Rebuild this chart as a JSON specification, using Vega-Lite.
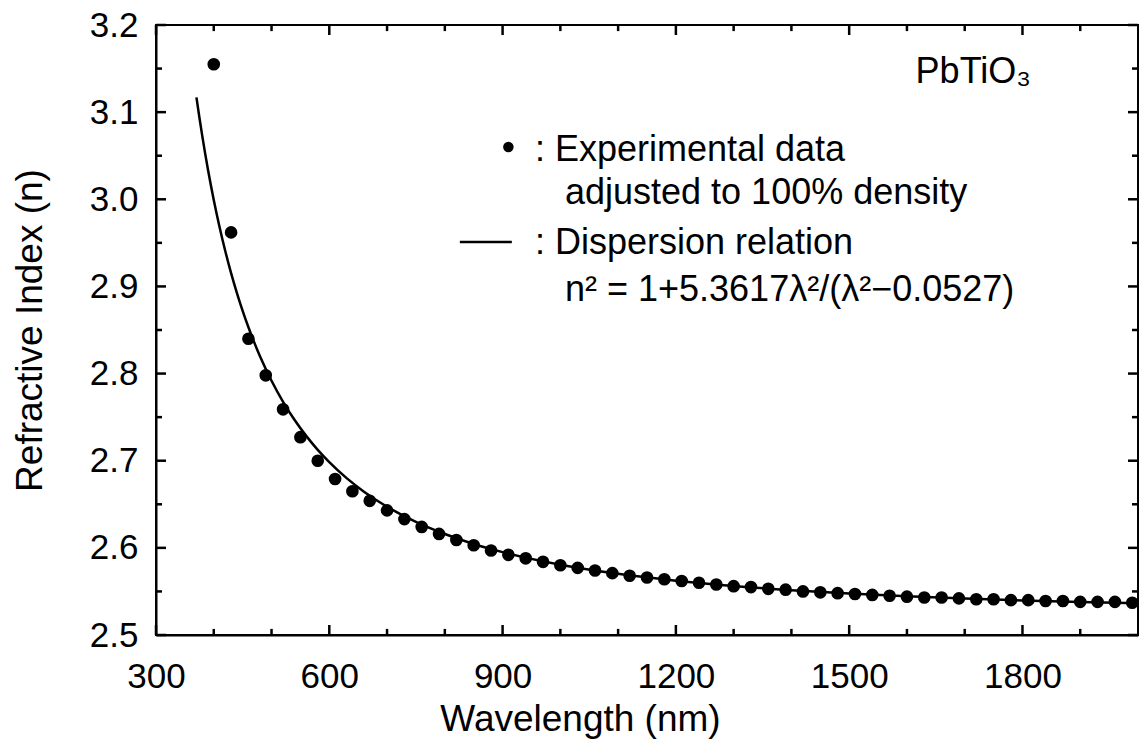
{
  "$schema": "https://vega.github.io/schema/vega-lite/v6.json",
  "width": 982,
  "height": 610,
  "autosize": "none",
  "padding": {"left": 156, "top": 25, "right": 3, "bottom": 110},
  "background": "white",
  "config": {
    "view": {"stroke": "black", "strokeWidth": 2},
    "axis": {
      "grid": false,
      "domainColor": "black",
      "domainWidth": 2,
      "labelColor": "black",
      "titleColor": "black",
      "labelFont": "Liberation Sans",
      "titleFont": "Liberation Sans",
      "labelFontSize": 35,
      "titleFontSize": 37,
      "titleFontWeight": "normal"
    },
    "text": {"font": "Liberation Sans", "fontSize": 36, "color": "black"},
    "rule": {"color": "black", "strokeWidth": 2.5}
  },
  "datasets": {
    "xt": [
      {"v": 300, "kind": "major"}, {"v": 400, "kind": "minor"}, {"v": 500, "kind": "minor"},
      {"v": 600, "kind": "major"}, {"v": 700, "kind": "minor"}, {"v": 800, "kind": "minor"},
      {"v": 900, "kind": "major"}, {"v": 1000, "kind": "minor"}, {"v": 1100, "kind": "minor"},
      {"v": 1200, "kind": "major"}, {"v": 1300, "kind": "minor"}, {"v": 1400, "kind": "minor"},
      {"v": 1500, "kind": "major"}, {"v": 1600, "kind": "minor"}, {"v": 1700, "kind": "minor"},
      {"v": 1800, "kind": "major"}, {"v": 1900, "kind": "minor"}
    ],
    "yt": [
      {"v": 2.5, "kind": "major"}, {"v": 2.55, "kind": "minor"}, {"v": 2.6, "kind": "major"},
      {"v": 2.65, "kind": "minor"}, {"v": 2.7, "kind": "major"}, {"v": 2.75, "kind": "minor"},
      {"v": 2.8, "kind": "major"}, {"v": 2.85, "kind": "minor"}, {"v": 2.9, "kind": "major"},
      {"v": 2.95, "kind": "minor"}, {"v": 3.0, "kind": "major"}, {"v": 3.05, "kind": "minor"},
      {"v": 3.1, "kind": "major"}, {"v": 3.15, "kind": "minor"}, {"v": 3.2, "kind": "major"}
    ],
    "exp": [
      {"wavelength": 400, "n": 3.155}, {"wavelength": 430, "n": 2.962}, {"wavelength": 460, "n": 2.840},
      {"wavelength": 490, "n": 2.798}, {"wavelength": 520, "n": 2.759}, {"wavelength": 550, "n": 2.727},
      {"wavelength": 580, "n": 2.700}, {"wavelength": 610, "n": 2.679}, {"wavelength": 640, "n": 2.665},
      {"wavelength": 670, "n": 2.654}, {"wavelength": 700, "n": 2.643}, {"wavelength": 730, "n": 2.633},
      {"wavelength": 760, "n": 2.624}, {"wavelength": 790, "n": 2.616}, {"wavelength": 820, "n": 2.609},
      {"wavelength": 850, "n": 2.603}, {"wavelength": 880, "n": 2.597}, {"wavelength": 910, "n": 2.592},
      {"wavelength": 940, "n": 2.588}, {"wavelength": 970, "n": 2.584}, {"wavelength": 1000, "n": 2.580},
      {"wavelength": 1030, "n": 2.577}, {"wavelength": 1060, "n": 2.574}, {"wavelength": 1090, "n": 2.571},
      {"wavelength": 1120, "n": 2.568}, {"wavelength": 1150, "n": 2.566}, {"wavelength": 1180, "n": 2.564},
      {"wavelength": 1210, "n": 2.562}, {"wavelength": 1240, "n": 2.560}, {"wavelength": 1270, "n": 2.558},
      {"wavelength": 1300, "n": 2.556}, {"wavelength": 1330, "n": 2.555}, {"wavelength": 1360, "n": 2.553},
      {"wavelength": 1390, "n": 2.552}, {"wavelength": 1420, "n": 2.550}, {"wavelength": 1450, "n": 2.549},
      {"wavelength": 1480, "n": 2.548}, {"wavelength": 1510, "n": 2.547}, {"wavelength": 1540, "n": 2.546},
      {"wavelength": 1570, "n": 2.545}, {"wavelength": 1600, "n": 2.544}, {"wavelength": 1630, "n": 2.543},
      {"wavelength": 1660, "n": 2.543}, {"wavelength": 1690, "n": 2.542}, {"wavelength": 1720, "n": 2.541},
      {"wavelength": 1750, "n": 2.541}, {"wavelength": 1780, "n": 2.540}, {"wavelength": 1810, "n": 2.540},
      {"wavelength": 1840, "n": 2.539}, {"wavelength": 1870, "n": 2.539}, {"wavelength": 1900, "n": 2.538},
      {"wavelength": 1930, "n": 2.538}, {"wavelength": 1960, "n": 2.538}, {"wavelength": 1990, "n": 2.537}
    ],
    "fit": [
      {"wavelength": 370, "n": 3.117}, {"wavelength": 375, "n": 3.0944}, {"wavelength": 380, "n": 3.073},
      {"wavelength": 390, "n": 3.0339}, {"wavelength": 400, "n": 2.9992}, {"wavelength": 410, "n": 2.9682},
      {"wavelength": 420, "n": 2.9404}, {"wavelength": 430, "n": 2.9153}, {"wavelength": 440, "n": 2.8926},
      {"wavelength": 450, "n": 2.8719}, {"wavelength": 460, "n": 2.8531}, {"wavelength": 480, "n": 2.8199},
      {"wavelength": 500, "n": 2.7918}, {"wavelength": 520, "n": 2.7676}, {"wavelength": 540, "n": 2.7467},
      {"wavelength": 560, "n": 2.7285}, {"wavelength": 580, "n": 2.7125}, {"wavelength": 600, "n": 2.6984},
      {"wavelength": 630, "n": 2.6800}, {"wavelength": 660, "n": 2.6645}, {"wavelength": 700, "n": 2.6472},
      {"wavelength": 750, "n": 2.6298}, {"wavelength": 800, "n": 2.6159}, {"wavelength": 850, "n": 2.6045},
      {"wavelength": 900, "n": 2.5951}, {"wavelength": 1000, "n": 2.5807}, {"wavelength": 1100, "n": 2.5702},
      {"wavelength": 1200, "n": 2.5623}, {"wavelength": 1300, "n": 2.5562}, {"wavelength": 1400, "n": 2.5514},
      {"wavelength": 1500, "n": 2.5476}, {"wavelength": 1600, "n": 2.5445}, {"wavelength": 1700, "n": 2.5419},
      {"wavelength": 1800, "n": 2.5397}, {"wavelength": 1900, "n": 2.5379}, {"wavelength": 2000, "n": 2.5364}
    ]
  },
  "layer": [
    {
      "data": {"name": "fit"},
      "mark": {"type": "line", "color": "black", "strokeWidth": 2.5, "interpolate": "monotone", "clip": true},
      "encoding": {
        "x": {
          "field": "wavelength", "type": "quantitative",
          "scale": {"domain": [300, 2000], "nice": false, "zero": false},
          "axis": {
            "values": [300, 600, 900, 1200, 1500, 1800],
            "format": "d",
            "ticks": false,
            "labelPadding": 24,
            "labelFlush": false,
            "title": "Wavelength (nm)",
            "titleX": 424,
            "titleY": 95,
            "titleBaseline": "alphabetic",
            "titleAnchor": null
          }
        },
        "y": {
          "field": "n", "type": "quantitative",
          "scale": {"domain": [2.5, 3.2], "nice": false, "zero": false},
          "axis": {
            "values": [2.5, 2.6, 2.7, 2.8, 2.9, 3.0, 3.1, 3.2],
            "format": ".1f",
            "ticks": false,
            "labelPadding": 18,
            "labelFlush": false,
            "title": "Refractive Index (n)",
            "titleX": -126,
            "titleY": 305,
            "titleAngle": -90,
            "titleBaseline": "middle",
            "titleAlign": "center"
          }
        }
      }
    },
    {
      "data": {"name": "xt"},
      "transform": [{"filter": "datum.kind === 'major'"}],
      "mark": {"type": "rule"},
      "encoding": {
        "x": {"field": "v", "type": "quantitative", "axis": null},
        "y": {"datum": 2.5, "type": "quantitative", "axis": null},
        "y2": {"datum": 2.5115}
      }
    },
    {
      "data": {"name": "xt"},
      "transform": [{"filter": "datum.kind === 'minor'"}],
      "mark": {"type": "rule"},
      "encoding": {
        "x": {"field": "v", "type": "quantitative", "axis": null},
        "y": {"datum": 2.5, "type": "quantitative", "axis": null},
        "y2": {"datum": 2.507}
      }
    },
    {
      "data": {"name": "xt"},
      "transform": [{"filter": "datum.kind === 'major'"}],
      "mark": {"type": "rule"},
      "encoding": {
        "x": {"field": "v", "type": "quantitative", "axis": null},
        "y": {"datum": 3.2, "type": "quantitative", "axis": null},
        "y2": {"datum": 3.1885}
      }
    },
    {
      "data": {"name": "xt"},
      "transform": [{"filter": "datum.kind === 'minor'"}],
      "mark": {"type": "rule"},
      "encoding": {
        "x": {"field": "v", "type": "quantitative", "axis": null},
        "y": {"datum": 3.2, "type": "quantitative", "axis": null},
        "y2": {"datum": 3.193}
      }
    },
    {
      "data": {"name": "yt"},
      "transform": [{"filter": "datum.kind === 'major'"}],
      "mark": {"type": "rule"},
      "encoding": {
        "y": {"field": "v", "type": "quantitative", "axis": null},
        "x": {"datum": 300, "type": "quantitative", "axis": null},
        "x2": {"datum": 317.3}
      }
    },
    {
      "data": {"name": "yt"},
      "transform": [{"filter": "datum.kind === 'minor'"}],
      "mark": {"type": "rule"},
      "encoding": {
        "y": {"field": "v", "type": "quantitative", "axis": null},
        "x": {"datum": 300, "type": "quantitative", "axis": null},
        "x2": {"datum": 310.4}
      }
    },
    {
      "data": {"name": "yt"},
      "transform": [{"filter": "datum.kind === 'major'"}],
      "mark": {"type": "rule"},
      "encoding": {
        "y": {"field": "v", "type": "quantitative", "axis": null},
        "x": {"datum": 2000, "type": "quantitative", "axis": null},
        "x2": {"datum": 1982.7}
      }
    },
    {
      "data": {"name": "yt"},
      "transform": [{"filter": "datum.kind === 'minor'"}],
      "mark": {"type": "rule"},
      "encoding": {
        "y": {"field": "v", "type": "quantitative", "axis": null},
        "x": {"datum": 2000, "type": "quantitative", "axis": null},
        "x2": {"datum": 1989.6}
      }
    },
    {
      "data": {"name": "exp"},
      "mark": {"type": "point", "filled": true, "color": "black", "size": 160, "opacity": 1},
      "encoding": {
        "x": {"field": "wavelength", "type": "quantitative", "axis": null},
        "y": {"field": "n", "type": "quantitative", "axis": null}
      }
    },
    {
      "data": {"values": [{}]},
      "mark": {"type": "text", "text": "PbTiO₃", "align": "left", "baseline": "middle"},
      "encoding": {
        "x": {"datum": 1615, "type": "quantitative", "axis": null},
        "y": {"datum": 3.146, "type": "quantitative", "axis": null}
      }
    },
    {
      "data": {"values": [{}]},
      "mark": {"type": "point", "filled": true, "color": "black", "size": 110, "opacity": 1},
      "encoding": {
        "x": {"datum": 910, "type": "quantitative", "axis": null},
        "y": {"datum": 3.06, "type": "quantitative", "axis": null}
      }
    },
    {
      "data": {"values": [{}]},
      "mark": {"type": "text", "text": ": Experimental data", "align": "left", "baseline": "middle"},
      "encoding": {
        "x": {"datum": 956, "type": "quantitative", "axis": null},
        "y": {"datum": 3.057, "type": "quantitative", "axis": null}
      }
    },
    {
      "data": {"values": [{}]},
      "mark": {"type": "text", "text": "adjusted to 100% density", "align": "left", "baseline": "middle"},
      "encoding": {
        "x": {"datum": 1008, "type": "quantitative", "axis": null},
        "y": {"datum": 3.007, "type": "quantitative", "axis": null}
      }
    },
    {
      "data": {"values": [{}]},
      "mark": {"type": "rule", "color": "black", "strokeWidth": 2.5},
      "encoding": {
        "x": {"datum": 826, "type": "quantitative", "axis": null},
        "x2": {"datum": 916},
        "y": {"datum": 2.951, "type": "quantitative", "axis": null}
      }
    },
    {
      "data": {"values": [{}]},
      "mark": {"type": "text", "text": ": Dispersion relation", "align": "left", "baseline": "middle"},
      "encoding": {
        "x": {"datum": 956, "type": "quantitative", "axis": null},
        "y": {"datum": 2.95, "type": "quantitative", "axis": null}
      }
    },
    {
      "data": {"values": [{}]},
      "mark": {"type": "text", "text": "n² = 1+5.3617λ²/(λ²−0.0527)", "align": "left", "baseline": "middle"},
      "encoding": {
        "x": {"datum": 1008, "type": "quantitative", "axis": null},
        "y": {"datum": 2.896, "type": "quantitative", "axis": null}
      }
    }
  ],
  "resolve": {"axis": {"x": "independent", "y": "independent"}}
}
